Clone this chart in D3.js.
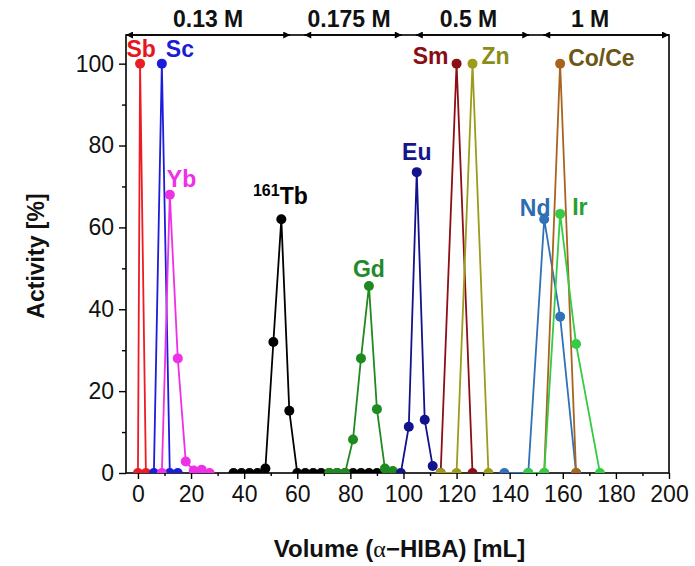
<!DOCTYPE html>
<html><head><meta charset="utf-8">
<script src="https://cdn.jsdelivr.net/npm/d3@7"></script>
<style>
body{margin:0;background:#fff}
text{font-family:Arial,"Liberation Sans",sans-serif}
</style>
</head><body><svg id="c" width="695" height="566"></svg>
<script>
// ---------- data ----------
const sbVol=[0,0.8,3],            sbAct=[0,100,0];
const scVol=[6,9,12,15],          scAct=[0,100,0,0];
const ybVol=[9,12,15,18,21,24,27],ybAct=[0,68,28,2.8,0.6,0.8,0];
const tbVol=[36,39,42,45,48,51,54,57,60,63,66,69,72,75,78,81,84,87,90];
const tbAct=[0,0,0,0,1.1,32,62,15.2,0,0,0,0,0,0,0,0,0,0,0];
const gdVol=[72,75,78,81,84,87,90,93,96], gdAct=[0,0,0,8.2,28,45.7,15.6,1.1,0.5];
const euVol=[99,102,105,108,111],  euAct=[0,11.3,73.5,13,1.7];
const smVol=[114,120,126],         smAct=[0,100,0];
const znVol=[114,120,126,132],     znAct=[0,0,100,0];
const ndVol=[138,147,153,159,165], ndAct=[0,0,62,38.2,0];
const coVol=[153,159,165],         coAct=[0,100,0];
const irVol=[147,153,159,165,174], irAct=[0,0,63.3,31.5,0];

const seriesNames=["Sb","Sc","Yb","Tb","Gd","Eu","Sm","Zn","Nd","Co/Ce","Ir"];
const seriesVols=[sbVol,scVol,ybVol,tbVol,gdVol,euVol,smVol,znVol,ndVol,coVol,irVol];
const seriesActs=[sbAct,scAct,ybAct,tbAct,gdAct,euAct,smAct,znAct,ndAct,coAct,irAct];
const lineColors=["#ec1c24","#1c1cdc","#ee30e6","#000000","#1f8a1f","#12128c","#8e0e16","#9c9c1c","#2f72b8","#a8641e","#34cc44"];
const labelColors=["#e8141c","#1c1cd8","#ee30e6","#000000","#23892a","#16168a","#8a0c14","#8c8c18","#2c6cb0","#6c5614","#28a030"];

const eluentLabels=["0.13 M","0.175 M","0.5 M","1 M"];
const eluentBounds=[-4.5,60,102,150,200];

const xMajor=[0,20,40,60,80,100,120,140,160,180,200];
const xMinor=[10,30,50,70,90,110,130,150,170,190];
const yMajor=[0,20,40,60,80,100];
const yMinor=[10,30,50,70,90];

// ---------- layout ----------
const L=126,R=669,T=35,B=473;
const svg=d3.select("#c");
const x=d3.scaleLinear().domain([-4.5,200]).range([L,R]);
const y=d3.scaleLinear().domain([0,107]).range([B,T]);

svg.append("defs").append("clipPath").attr("id","clip")
  .append("rect").attr("x",L).attr("y",T-20).attr("width",R-L).attr("height",B-T+20);

// axes
const fs=23;
svg.append("g").attr("transform",`translate(0,${B})`)
  .call(d3.axisBottom(x).tickValues(xMajor).tickSize(6).tickPadding(7).tickFormat(d3.format("d")));
svg.append("g").attr("transform",`translate(0,${B})`)
  .call(d3.axisBottom(x).tickValues(xMinor).tickSize(3).tickFormat(""));
svg.append("g").attr("transform",`translate(${L},0)`)
  .call(d3.axisLeft(y).tickValues(yMajor).tickSize(7).tickPadding(5).tickFormat(d3.format("d")));
svg.append("g").attr("transform",`translate(${L},0)`)
  .call(d3.axisLeft(y).tickValues(yMinor).tickSize(4).tickFormat(""));
svg.selectAll(".domain").remove();
svg.selectAll(".tick line").attr("stroke","#000").attr("stroke-width",1.4);
svg.selectAll(".tick text").attr("font-size",fs).attr("font-family","Arial,'Liberation Sans',sans-serif").attr("fill","#111");

// frame
svg.append("rect").attr("x",L).attr("y",T).attr("width",R-L).attr("height",B-T)
  .attr("fill","none").attr("stroke","#000").attr("stroke-width",1.6);

// series
const plot=svg.append("g").attr("clip-path","url(#clip)");
const line=d3.line().x(d=>x(d[0])).y(d=>y(d[1]));
seriesNames.forEach((n,i)=>{
  const pts=seriesVols[i].map((v,j)=>[v,seriesActs[i][j]]);
  const g=plot.append("g");
  g.append("path").attr("d",line(pts)).attr("fill","none")
    .attr("stroke",lineColors[i]).attr("stroke-width",1.8);
  g.selectAll("circle").data(pts).join("circle")
    .attr("cx",d=>x(d[0])).attr("cy",d=>y(d[1])).attr("r",5)
    .attr("fill",lineColors[i]);
});

// element labels (anchored to each peak)
const labelCfg={
  "Sb":{v:0.8,a:100,dx:1,dy:-7,anchor:"middle"},
  "Sc":{v:9,a:100,dx:4,dy:-7,anchor:"start"},
  "Yb":{v:12,a:68,dx:-3,dy:-8,anchor:"start"},
  "Tb":{v:54,a:62,dx:-1,dy:-15,anchor:"middle"},
  "Gd":{v:87,a:45.7,dx:0,dy:-9,anchor:"middle"},
  "Eu":{v:105,a:73.5,dx:0,dy:-12,anchor:"middle"},
  "Sm":{v:120,a:100,dx:-8,dy:0,anchor:"end"},
  "Zn":{v:126,a:100,dx:9,dy:0,anchor:"start"},
  "Nd":{v:153,a:62,dx:-9,dy:-3,anchor:"middle"},
  "Co/Ce":{v:159,a:100,dx:8,dy:2,anchor:"start"},
  "Ir":{v:159,a:63.3,dx:12,dy:1,anchor:"start"}
};
seriesNames.forEach((n,i)=>{
  const c=labelCfg[n];
  const t=svg.append("text").attr("x",x(c.v)+c.dx).attr("y",y(c.a)+c.dy)
    .attr("text-anchor",c.anchor).attr("font-weight","bold").attr("font-size",23)
    .attr("fill",labelColors[i]);
  if(n==="Tb"){
    t.append("tspan").attr("font-size",16).attr("dy",-8).text("161");
    t.append("tspan").attr("dy",8).text("Tb");
  } else t.text(n);
});

// eluent arrows on top
const defs=svg.select("defs");
defs.append("marker").attr("id","ah").attr("viewBox","0 0 10 10").attr("refX",10).attr("refY",5)
  .attr("markerWidth",9).attr("markerHeight",7).attr("markerUnits","userSpaceOnUse")
  .attr("orient","auto-start-reverse")
  .append("path").attr("d","M0,0L10,5L0,10z").attr("fill","#000");
const eluentLabelShift=[0,-4,-4,-16];
eluentLabels.forEach((lab,i)=>{
  const a=x(eluentBounds[i])+(i===0?0:7), b=x(eluentBounds[i+1])-(i===eluentLabels.length-1?0:7);
  svg.append("line").attr("x1",a).attr("x2",b).attr("y1",T).attr("y2",T)
    .attr("stroke","#000").attr("stroke-width",1.5)
    .attr("marker-start","url(#ah)").attr("marker-end","url(#ah)");
  svg.append("text").attr("x",(a+b)/2+eluentLabelShift[i]).attr("y",T-8).attr("text-anchor","middle")
    .attr("font-weight","bold").attr("font-size",23).attr("fill","#111").text(lab);
});

// axis titles
svg.append("text").attr("transform",`translate(44,${(T+B)/2+2}) rotate(-90)`)
  .attr("text-anchor","middle").attr("font-weight","bold").attr("font-size",23).attr("fill","#111")
  .text("Activity [%]");
const xt=svg.append("text").attr("x",(L+R)/2+2).attr("y",557).attr("text-anchor","middle")
  .attr("font-weight","bold").attr("font-size",24).attr("fill","#111");
xt.append("tspan").text("Volume (");
xt.append("tspan").attr("font-family","'Liberation Serif','DejaVu Serif',serif").attr("font-weight","normal").text("α");
xt.append("tspan").text("\u2212HIBA) [mL]");
</script></body></html>
